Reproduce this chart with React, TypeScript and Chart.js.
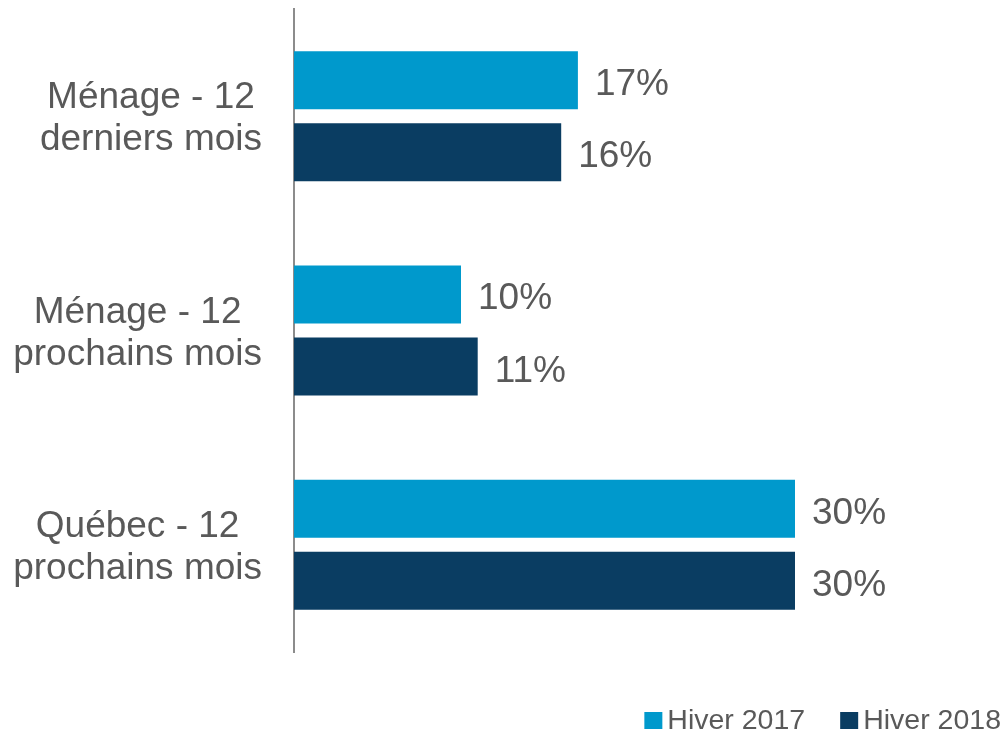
import React, { useEffect, useRef } from "react";
import { Chart, registerables } from "chart.js";

Chart.register(...registerables);

const categories: string[][] = [
  ["Ménage - 12", "derniers mois"],
  ["Ménage - 12", "prochains mois"],
  ["Québec - 12", "prochains mois"],
];
const seriesNames = ["Hiver 2017", "Hiver 2018"];
const hiver2017 = [17, 10, 30];
const hiver2018 = [16, 11, 30];
const seriesColors = ["#0099CC", "#0A3D62"];

const FONT = "'Liberation Sans', Arial, Helvetica, sans-serif";
const TEXT = "#595959";

const catLabelPlugin = {
  id: "catLabels",
  afterDraw(chart: any) {
    const ctx = chart.ctx;
    const y = chart.scales.y;
    ctx.save();
    ctx.font = `37px ${FONT}`;
    ctx.fillStyle = TEXT;
    ctx.textAlign = "center";
    ctx.textBaseline = "alphabetic";
    const right = chart.chartArea.left - 32;
    const lh = 42;
    (chart.data.labels as any[]).forEach((lab, i) => {
      const lines: string[] = Array.isArray(lab) ? lab : [lab];
      const w = Math.max(...lines.map((l) => ctx.measureText(l).width));
      const cx = right - w / 2;
      const cy = y.getPixelForValue(i);
      lines.forEach((l, j) => {
        const ly = cy + (j - (lines.length - 1) / 2) * lh;
        ctx.fillText(l, cx, ly + 13);
      });
    });
    ctx.restore();
  },
};

const valueLabelPlugin = {
  id: "valueLabels",
  afterDatasetsDraw(chart: any) {
    const ctx = chart.ctx;
    ctx.save();
    ctx.font = `37px ${FONT}`;
    ctx.fillStyle = TEXT;
    ctx.textAlign = "left";
    ctx.textBaseline = "alphabetic";
    chart.data.datasets.forEach((ds: any, di: number) => {
      const meta = chart.getDatasetMeta(di);
      meta.data.forEach((bar: any, i: number) => {
        ctx.fillText(`${ds.data[i]}%`, bar.x + 17, bar.y + 15);
      });
    });
    ctx.restore();
  },
};

const legendPlugin = {
  id: "customLegend",
  afterDraw(chart: any) {
    const ctx = chart.ctx;
    ctx.save();
    ctx.font = `28.5px ${FONT}`;
    ctx.textAlign = "left";
    ctx.textBaseline = "alphabetic";
    const baseline = 729;
    const box = 18;
    const boxGap = 5;
    const itemGap = 35;
    let x = 1001;
    const ds = chart.data.datasets as any[];
    const positions: { bx: number; tx: number }[] = [];
    for (let i = ds.length - 1; i >= 0; i--) {
      const w = ctx.measureText(ds[i].label).width;
      const tx = x - w;
      const bx = tx - boxGap - box;
      positions[i] = { bx, tx };
      x = bx - itemGap;
    }
    ds.forEach((d, i) => {
      ctx.fillStyle = d.backgroundColor;
      ctx.fillRect(positions[i].bx, baseline - box + 1, box, box - 1);
      ctx.fillStyle = TEXT;
      ctx.fillText(d.label, positions[i].tx, baseline);
    });
    ctx.restore();
  },
};

export default function App() {
  const ref = useRef<HTMLCanvasElement | null>(null);
  useEffect(() => {
    if (!ref.current) return;
    const chart = new Chart(ref.current, {
      type: "bar",
      data: {
        labels: categories as any,
        datasets: [
          {
            label: seriesNames[0],
            data: hiver2017,
            backgroundColor: seriesColors[0],
            barPercentage: 0.806,
            categoryPercentage: 0.672,
          },
          {
            label: seriesNames[1],
            data: hiver2018,
            backgroundColor: seriesColors[1],
            barPercentage: 0.806,
            categoryPercentage: 0.672,
          },
        ],
      },
      options: {
        indexAxis: "y",
        responsive: false,
        animation: false,
        layout: { padding: { top: 9, bottom: 80, left: 0, right: 44 } },
        plugins: {
          legend: { display: false },
          tooltip: { enabled: false },
        },
        scales: {
          x: { display: false, min: 0, max: 40 },
          y: {
            ticks: { display: false },
            grid: { display: false },
            border: { display: true, color: "#8C8C8C", width: 2 },
            afterFit: (s: any) => {
              s.width = 294;
            },
          },
        },
      },
      plugins: [catLabelPlugin, valueLabelPlugin, legendPlugin],
    });
    return () => chart.destroy();
  }, []);
  return (
    <div style={{ position: "absolute", left: 0, top: 0, width: 1006, height: 732, background: "#fff" }}>
      <canvas ref={ref} width={1006} height={732} />
    </div>
  );
}
